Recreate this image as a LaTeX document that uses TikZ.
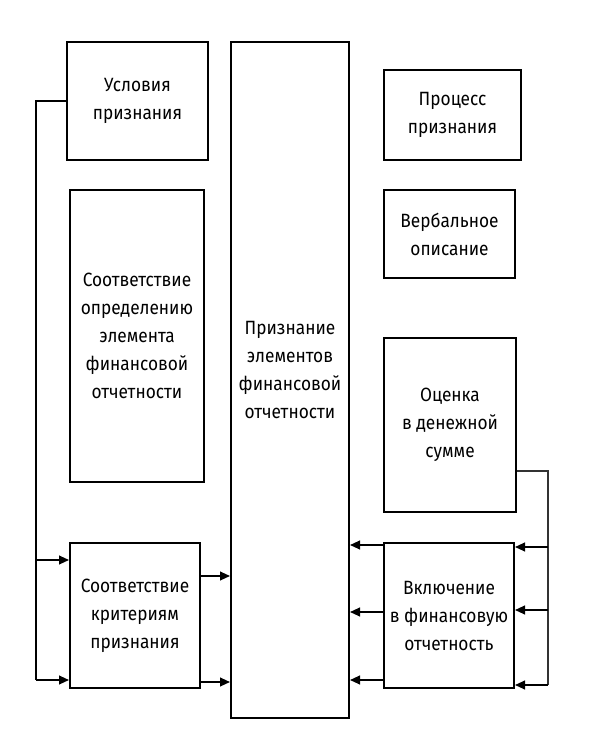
\documentclass[tikz,border=0pt]{standalone}
\usepackage{fontspec}
\setmainfont{Fira Sans}[FakeStretch=0.9]
\usepackage{tikz}
\usetikzlibrary{arrows.meta}
\tikzset{every picture/.append style={font=\fontsize{9.6}{14}\selectfont}}
\tikzset{
  box/.style={draw,line width=1pt,align=center,inner sep=0pt},
  arr/.style={-{Triangle[length=5pt,width=4.4pt]},line width=0.8pt},
  bus/.style={line width=0.8pt}
}

\begin{document}
\begin{tikzpicture}[x=0.5pt,y=-0.5pt]
    \useasboundingbox (0,0) rectangle (590,739);
    \node[box,minimum width=70.5pt,minimum height=59pt] (cond) at (137.5,101) {Условия\\признания};
    \node[box,minimum width=67pt,minimum height=146pt] (defn) at (137,336) {Соответствие\\определению\\элемента\\финансовой\\отчетности};
    \node[box,minimum width=65pt,minimum height=72.5pt] (crit) at (135,615.5) {Соответствие\\критериям\\признания};
    \node[box,minimum width=59pt,minimum height=338pt] (recog) at (290,380) {};
    \node[align=center] (recogtxt) at (290,370) {Признание\\элементов\\финансовой\\отчетности};
    \node[box,minimum width=68.5pt,minimum height=45pt] (proc) at (452.5,115) {Процесс\\признания};
    \node[box,minimum width=65.5pt,minimum height=44pt] (verb) at (449.5,234) {Вербальное\\описание};
    \node[box,minimum width=66pt,minimum height=87pt] (eval) at (450,425) {Оценка\\в денежной\\сумме};
    \node[box,minimum width=65pt,minimum height=72.5pt] (incl) at (449,615.5) {Включение\\в финансовую\\отчетность};
    \coordinate (ltop) at (36,101);
    \coordinate (lbot) at (36,680);
    \coordinate (rtop) at (548,471);
    \coordinate (rbot) at (548,685);
    \draw[bus] (cond.west) -- (ltop) -- (lbot);
    \foreach \yy in {560,680} {\draw[arr] (ltop |- 0,\yy) -- (crit.west |- 0,\yy);}
    \foreach \yy in {576,682} {\draw[arr] (crit.east |- 0,\yy) -- (recog.west |- 0,\yy);}
    \draw[line width=0.6pt,black!80] (eval.east |- rtop) -- (rtop) -- (rbot);
    \foreach \yy in {547,610,685} {\draw[arr] (rtop |- 0,\yy) -- (incl.east |- 0,\yy);}
    \foreach \yy in {545,612,680} {\draw[arr] (incl.west |- 0,\yy) -- (recog.east |- 0,\yy);}
  \end{tikzpicture}
\end{document}
